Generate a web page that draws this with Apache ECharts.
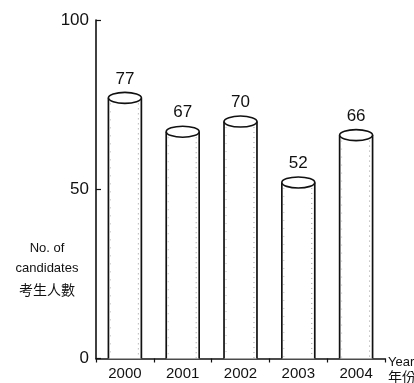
<!DOCTYPE html>
<html>
<head>
<meta charset="utf-8">
<script src="https://cdn.jsdelivr.net/npm/echarts@6/dist/echarts.min.js"></script>
<style>
  html, body { margin: 0; padding: 0; background: #fff; }
  #chart { width: 414px; height: 383px; }
</style>
</head>
<body>
<div id="chart"></div>
<script>
// Number of candidates by year
const years = ['2000', '2001', '2002', '2003', '2004'];
const candidates = [77, 67, 70, 52, 66];
const yTicks = [0, 50, 100];

const FONT = '"Liberation Sans", Arial, "Noto Sans CJK TC", sans-serif';
const CJK = '"Noto Sans CJK TC", sans-serif';
const chart = echarts.init(document.getElementById('chart'), null, { renderer: 'canvas' });

// Draws one cylinder: white body, two side edges, light stipple and an elliptical cap
function renderCylinder(params, api) {
  const idx = api.value(0);
  const val = api.value(1);
  const top = api.coord([idx, val]);
  const base = api.coord([idx, 0]);
  const band = api.size([1, 0])[0];
  const w = band * 0.57;
  const rx = w / 2;
  const ry = 5.5;
  const cx = top[0];
  const x0 = cx - rx;
  const x1 = cx + rx;
  return {
    type: 'group',
    children: [
      { type: 'rect', shape: { x: x0, y: top[1], width: w, height: base[1] - top[1] },
        style: { fill: '#fff', stroke: null } },
      { type: 'line', shape: { x1: x1 - 3, y1: top[1] + ry, x2: x1 - 3, y2: base[1] },
        style: { stroke: '#999', lineWidth: 1, lineDash: [1, 4] } },
      { type: 'line', shape: { x1: x0 + 2, y1: top[1] + ry, x2: x0 + 2, y2: base[1] },
        style: { stroke: '#bbb', lineWidth: 1, lineDash: [1, 7] } },
      { type: 'line', shape: { x1: x0, y1: top[1], x2: x0, y2: base[1] },
        style: { stroke: '#111', lineWidth: 1.7 } },
      { type: 'line', shape: { x1: x1, y1: top[1], x2: x1, y2: base[1] },
        style: { stroke: '#111', lineWidth: 1.7 } },
      { type: 'ellipse', shape: { cx: cx, cy: top[1], rx: rx, ry: ry },
        style: { fill: '#fff', stroke: '#111', lineWidth: 1.6 } },
      { type: 'text', x: cx, y: top[1] - ry - 5,
        style: { text: String(val), fill: '#111', font: '17px ' + FONT,
                 textAlign: 'center', textVerticalAlign: 'bottom' } }
    ]
  };
}

chart.setOption({
  animation: false,
  backgroundColor: '#fff',
  grid: { left: 96, right: 29, top: 20, bottom: 24.5 },
  xAxis: {
    type: 'category',
    data: years,
    boundaryGap: true,
    axisLine: { lineStyle: { color: '#111', width: 1.6 } },
    axisTick: { show: true, inside: false, length: 4, alignWithLabel: false,
                lineStyle: { color: '#111', width: 1.2 } },
    axisLabel: { color: '#111', fontSize: 15, fontFamily: FONT, margin: 8 },
    splitLine: { show: false }
  },
  yAxis: {
    type: 'value',
    min: yTicks[0],
    max: yTicks[yTicks.length - 1],
    interval: yTicks[1] - yTicks[0],
    axisLine: { show: true, lineStyle: { color: '#111', width: 1.6 } },
    axisTick: { show: true, inside: true, length: 5, lineStyle: { color: '#111', width: 1.2 } },
    axisLabel: { color: '#111', fontSize: 17, fontFamily: FONT, margin: 7 },
    splitLine: { show: false }
  },
  graphic: [
    { type: 'text', position: [47, 248],
      style: { text: 'No. of', fill: '#111', font: '13px ' + FONT,
               textAlign: 'center', textVerticalAlign: 'middle' } },
    { type: 'text', position: [47, 268],
      style: { text: 'candidates', fill: '#111', font: '13px ' + FONT,
               textAlign: 'center', textVerticalAlign: 'middle' } },
    { type: 'text', position: [47, 290],
      style: { text: '考生人數', fill: '#111', font: '14px ' + CJK,
               textAlign: 'center', textVerticalAlign: 'middle' } },
    { type: 'text', position: [388, 362],
      style: { text: 'Year', fill: '#111', font: '13px ' + FONT,
               textAlign: 'left', textVerticalAlign: 'middle' } },
    { type: 'text', position: [388, 377],
      style: { text: '年份', fill: '#111', font: '14px ' + CJK,
               textAlign: 'left', textVerticalAlign: 'middle' } }
  ],
  series: [{
    type: 'custom',
    renderItem: renderCylinder,
    data: candidates.map((v, i) => [i, v]),
    encode: { x: 0, y: 1 },
    clip: false
  }]
});
</script>
</body>
</html>
